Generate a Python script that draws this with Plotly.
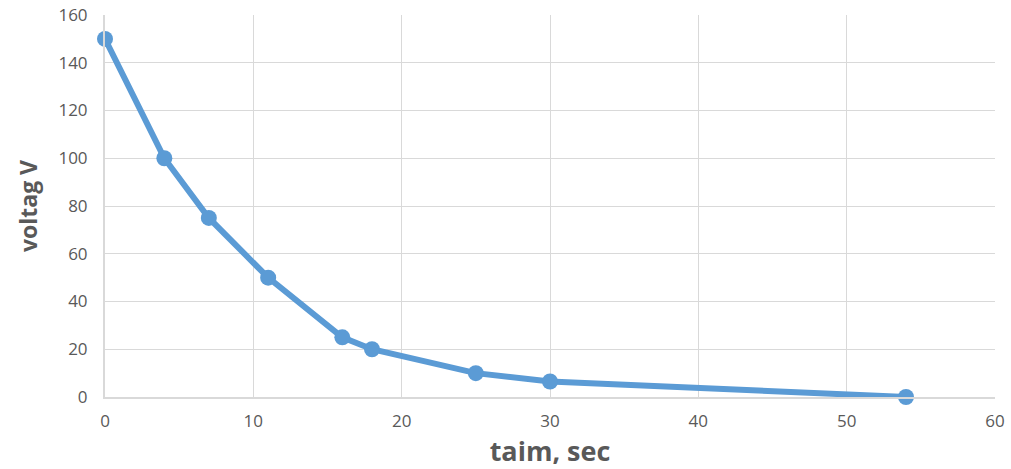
import plotly.graph_objects as go

time_sec = [0, 4, 7, 11, 16, 18, 25, 30, 54]
voltage_v = [150, 100, 75, 50, 25, 20, 10, 6.5, 0]

fig = go.Figure()
fig.add_trace(go.Scatter(
    x=time_sec, y=voltage_v, mode="lines+markers",
    line=dict(color="#5B9BD5", width=6),
    marker=dict(color="#5B9BD5", size=16),
    showlegend=False, cliponaxis=False,
))

axis_common = dict(
    showgrid=True, gridcolor="#D9D9D9", gridwidth=1,
    showline=True, linecolor="#D9D9D9", linewidth=2,
    zeroline=False, ticks="", automargin=False,
    tickfont=dict(family="Open Sans, Liberation Sans, sans-serif", size=17, color="#595959"),
)

fig.update_layout(
    width=1011, height=469,
    margin=dict(l=105, r=16, t=15, b=72),
    paper_bgcolor="white", plot_bgcolor="white",
    xaxis=dict(range=[0, 60], dtick=10, **axis_common,
               title=dict(text="<b>taim, sec</b>", standoff=10,
                          font=dict(family="Open Sans, Liberation Sans, sans-serif", size=27, color="#595959"))),
    yaxis=dict(range=[0, 160], dtick=20, **axis_common,
               title=dict(text="<b>voltag V</b>", standoff=14,
                          font=dict(family="Open Sans, Liberation Sans, sans-serif", size=23, color="#595959"))),
)
fig.update_xaxes(ticklabelstandoff=8)
fig.update_yaxes(ticklabelstandoff=12)

fig.write_html("out.html", config={"displayModeBar": False},
               post_script="document.body.style.margin='0';")
